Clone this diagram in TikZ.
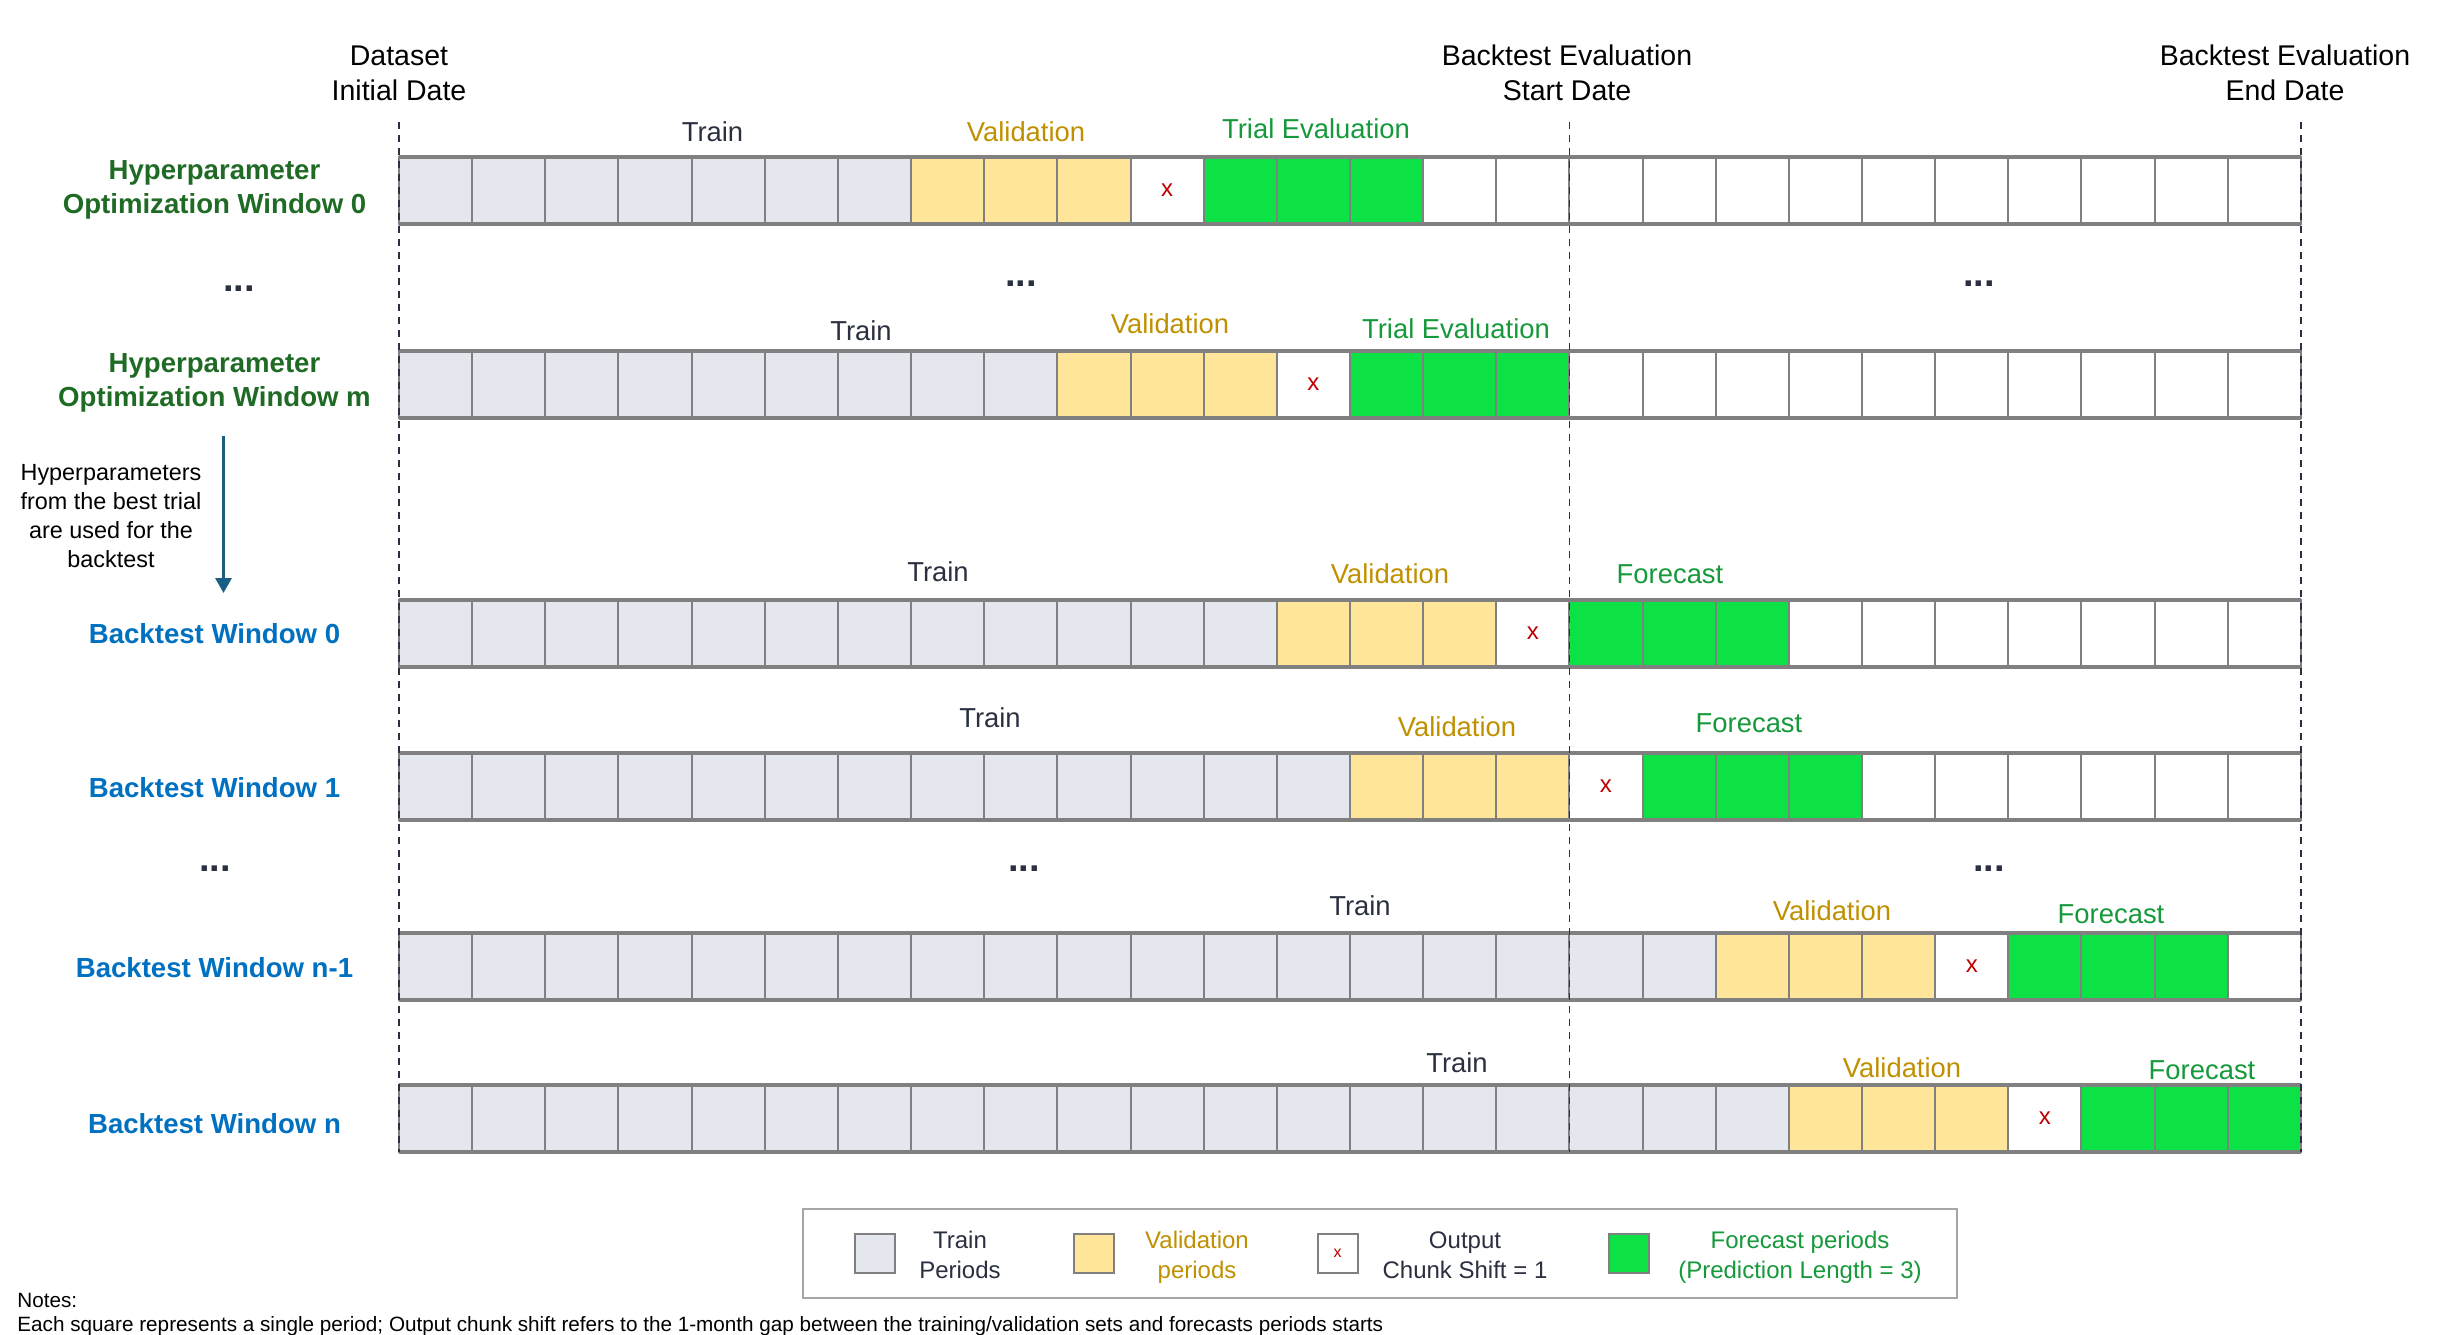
\documentclass[tikz,border=0pt]{standalone}
\usepackage{fontspec}
\setmainfont{Liberation Sans}
\usepackage{tikz}
\usetikzlibrary{arrows.meta}

\definecolor{trainfill}{HTML}{E4E7EE}
\definecolor{valfill}{HTML}{FEE599}
\definecolor{forecastfill}{HTML}{0CE146}
\definecolor{cellgray}{HTML}{808080}
\definecolor{inkdark}{HTML}{2A3040}
\definecolor{valgold}{HTML}{BF9000}
\definecolor{evalgreen}{HTML}{15993A}
\definecolor{hpogreen}{HTML}{1F6B25}
\definecolor{btblue}{HTML}{0070C0}
\definecolor{handoverblue}{HTML}{1A5F83}
\definecolor{gapred}{HTML}{C00000}
\definecolor{framegray}{HTML}{A6A6A6}

\tikzstyle{period} =
[
	rectangle,
	minimum width = 36.575pt,
	minimum height = 33.5pt,
	inner sep = 0pt,
	outer sep = 0pt,
	line width = 1pt,
	draw = cellgray
]
\tikzstyle{trainbox} = [period, fill=trainfill]
\tikzstyle{valbox} = [period, fill=valfill]
\tikzstyle{gapbox} = [period, fill=white]
\tikzstyle{forecastbox} = [period, fill=forecastfill]
\tikzstyle{emptybox} = [period, fill=white]
\tikzstyle{rowedge} = [line width=1.6pt, draw=cellgray]
\tikzstyle{guide} = [line width=0.85pt, draw=inkdark, dash pattern=on 3.5pt off 3pt]
\tikzstyle{gapmark} = [text=gapred, inner sep=0pt, font=\fontsize{12}{14}\selectfont]
\tikzstyle{datelabel} =
[
	align=center,
	anchor=base,
	inner sep=0pt,
	text=black,
	font=\fontsize{14.25}{17.5}\selectfont
]
\tikzstyle{hpolabel} =
[
	align=center,
	anchor=base,
	inner sep=0pt,
	text=hpogreen,
	font=\bfseries\fontsize{13.8}{16.75}\selectfont
]
\tikzstyle{btlabel} =
[
	anchor=base,
	inner sep=0pt,
	text=btblue,
	font=\bfseries\fontsize{13.8}{16.5}\selectfont
]
\tikzstyle{phase} = [anchor=base, inner sep=0pt, font=\fontsize{13.7}{16}\selectfont]
\tikzstyle{trainlabel} = [phase, text=inkdark]
\tikzstyle{vallabel} = [phase, text=valgold]
\tikzstyle{evallabel} = [phase, text=evalgreen]
\tikzstyle{skip} = [anchor=base, inner sep=0pt, text=inkdark, font=\bfseries\fontsize{19}{22}\selectfont]
\tikzstyle{sidenote} =
[
	align=center,
	anchor=base,
	inner sep=0pt,
	text=black,
	font=\fontsize{11.7}{14.5}\selectfont
]
\tikzstyle{handover} = [line width=1.5pt, draw=handoverblue, -{Triangle[width=8pt,length=7.5pt]}]
\tikzstyle{legendframe} =
[
	rectangle,
	minimum width = 577pt,
	minimum height = 44.5pt,
	draw = framegray,
	line width = 0.6pt,
	fill = white
]
\tikzstyle{swatch} = [minimum width=20pt, minimum height=19.5pt]
\tikzstyle{legendtext} =
[
	align=center,
	anchor=base,
	inner sep=0pt,
	font=\fontsize{12}{15}\selectfont
]
\tikzstyle{notetext} =
[
	align=left,
	anchor=base west,
	inner sep=0pt,
	text=black,
	font=\fontsize{10.35}{12}\selectfont
]

% one window: name, y of the row centre, number of train periods
\newcommand{\windowrow}[3]{%
	\foreach \i in {0,...,25}{%
		\ifnum\i<#3\relax \def\cellkind{trainbox}%
		\else\ifnum\i<\numexpr#3+3\relax \def\cellkind{valbox}%
		\else\ifnum\i=\numexpr#3+3\relax \def\cellkind{gapbox}%
		\else\ifnum\i<\numexpr#3+7\relax \def\cellkind{forecastbox}%
		\else \def\cellkind{emptybox}%
		\fi\fi\fi\fi
		\node (#1-c\i) [\cellkind] at ({399+73.15*(\i+0.5)},#2) {};
	}
	\draw [rowedge] (#1-c0.north west) -- (#1-c25.north east);
	\draw [rowedge] (#1-c0.south west) -- (#1-c25.south east);
	\pgfmathtruncatemacro{\gapidx}{#3+3}
	\node (#1-x) [gapmark] at (#1-c\gapidx) {x};
}

\begin{document}
\begin{tikzpicture}[x=0.5pt, y=-0.5pt]
	\useasboundingbox (0,0) rectangle (2440,1334);

	% windows
	\windowrow{hpo0}{190.5}{7}
	\windowrow{hpom}{384.5}{9}
	\windowrow{bt0}{633.5}{12}
	\windowrow{bt1}{786.5}{13}
	\windowrow{btn1}{966.5}{18}
	\windowrow{btn}{1118.5}{19}

	% dates
	\draw [guide] ([yshift=17.5pt]hpo0-c0.north west) -- (btn-c0.south west);
	\draw [guide] ([yshift=17.5pt]hpo0-c16.north west) -- (btn-c16.south west);
	\draw [guide] ([yshift=17.5pt]hpo0-c25.north east) -- (btn-c25.south east);

	\node
	(InitialDate)
	[datelabel]
	at (399,100)
	{Dataset\\Initial Date};

	\node
	(StartDate)
	[datelabel]
	at (1567,100)
	{Backtest Evaluation\\Start Date};

	\node
	(EndDate)
	[datelabel]
	at (2285,100)
	{Backtest Evaluation\\End Date};

	% window names
	\node (hpo0-name) [hpolabel] at (214.5,213) {Hyperparameter\\Optimization Window 0};
	\node (hpom-name) [hpolabel] at (214.5,406) {Hyperparameter\\Optimization Window m};
	\node (bt0-name) [btlabel] at (214.5,643) {Backtest Window 0};
	\node (bt1-name) [btlabel] at (214.5,797) {Backtest Window 1};
	\node (btn1-name) [btlabel] at (214.5,977) {Backtest Window n-1};
	\node (btn-name) [btlabel] at (214.5,1133) {Backtest Window n};

	% phase labels
	\node (hpo0-train) [trainlabel] at (712.5,141) {Train};
	\node (hpo0-val) [vallabel] at (1026,141) {Validation};
	\node (hpo0-eval) [evallabel] at (1316,138) {Trial Evaluation};

	\node (hpom-train) [trainlabel] at (861,340) {Train};
	\node (hpom-val) [vallabel] at (1170,333) {Validation};
	\node (hpom-eval) [evallabel] at (1456,338) {Trial Evaluation};

	\node (bt0-train) [trainlabel] at (938,581) {Train};
	\node (bt0-val) [vallabel] at (1390,583) {Validation};
	\node (bt0-fc) [evallabel] at (1670,583) {Forecast};

	\node (bt1-train) [trainlabel] at (990,727) {Train};
	\node (bt1-val) [vallabel] at (1457,736) {Validation};
	\node (bt1-fc) [evallabel] at (1749,732) {Forecast};

	\node (btn1-train) [trainlabel] at (1360,915) {Train};
	\node (btn1-val) [vallabel] at (1832,920) {Validation};
	\node (btn1-fc) [evallabel] at (2111,923) {Forecast};

	\node (btn-train) [trainlabel] at (1457,1072) {Train};
	\node (btn-val) [vallabel] at (1902,1077) {Validation};
	\node (btn-fc) [evallabel] at (2202,1079) {Forecast};

	% skipped windows
	\node (skip-hpo-name) [skip] at (239,291) {...};
	\node (skip-hpo-mid) [skip] at (1021,286) {...};
	\node (skip-hpo-right) [skip] at (1979,286) {...};
	\node (skip-bt-name) [skip] at (215,871) {...};
	\node (skip-bt-mid) [skip] at (1024,871) {...};
	\node (skip-bt-right) [skip] at (1989,871) {...};

	% best trial goes to the backtest
	\coordinate (handover-top) at (223.5,436);
	\coordinate (handover-tip) at (223.5,593);
	\draw [handover] (handover-top) -- (handover-tip);
	\node
	(handover-note)
	[sidenote]
	at (111,567)
	{Hyperparameters\\from the best trial\\are used for the\\backtest};

	% legend
	\node (legend) [legendframe] at (1380,1253.5) {};
	\node (lg-train) [trainbox, swatch] at (875,1253.5) {};
	\node (lg-val) [valbox, swatch] at (1094,1253.5) {};
	\node (lg-gap) [gapbox, swatch] at (1337.5,1253.5) {};
	\node (lg-gap-x) [gapmark, font=\fontsize{8}{9}\selectfont] at (lg-gap) {x};
	\node (lg-fc) [forecastbox, swatch] at (1629,1253.5) {};
	\node (lg-train-text) [legendtext, text=inkdark] at (960,1278) {Train\\Periods};
	\node (lg-val-text) [legendtext, text=valgold] at (1197,1278) {Validation\\periods};
	\node (lg-gap-text) [legendtext, text=inkdark] at (1465,1278) {Output\\Chunk Shift = 1};
	\node (lg-fc-text) [legendtext, text=evalgreen] at (1800,1278) {Forecast periods\\(Prediction Length = 3)};

	% notes
	\node
	(notes)
	[notetext]
	at (17,1331)
	{Notes:\\Each square represents a single period; Output chunk shift refers to the 1-month gap between the training/validation sets and forecasts periods starts};

\end{tikzpicture}
\end{document}
